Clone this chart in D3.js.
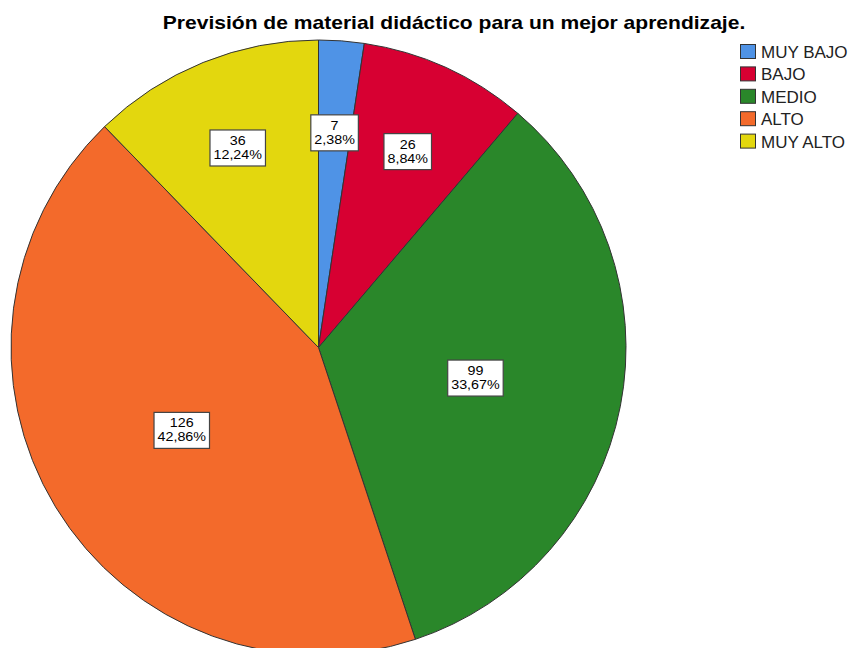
<!DOCTYPE html>
<html>
<head>
<meta charset="utf-8">
<script src="https://cdn.jsdelivr.net/npm/d3@7"></script>
<style>
  body { margin: 0; background: #fff; }
  svg { display: block; font-family: "Liberation Sans", Arial, sans-serif; }
</style>
</head>
<body>
<svg id="chart" width="852" height="648"></svg>
<script>
const titleText = "Previsión de material didáctico para un mejor aprendizaje.";
const categories = ["MUY BAJO", "BAJO", "MEDIO", "ALTO", "MUY ALTO"];
const counts = [7, 26, 99, 126, 36];
const percents = ["2,38%", "8,84%", "33,67%", "42,86%", "12,24%"];
const colors = ["#4f93e6", "#d70032", "#2a872a", "#f36a2b", "#e3d70e"];

const svg = d3.select("#chart");
const cx = 318.5, cy = 347.5, R = 307.5;
const total = d3.sum(counts);

const data = categories.map((c, i) => ({
  name: c,
  value: counts[i],
  pct: percents[i],
  color: colors[i]
}));

// title (SPSS output is a bit stretched sideways)
svg.append("text")
  .attr("transform", "translate(454,29) scale(1.17,1)")
  .attr("text-anchor", "middle")
  .style("font-size", "18px")
  .style("font-weight", "bold")
  .text(titleText);

const pie = d3.pie().sort(null).value(d => d.value);
const arc = d3.arc().innerRadius(0).outerRadius(R);
const arcs = pie(data);

const g = svg.append("g").attr("transform", `translate(${cx},${cy})`);

g.selectAll("path")
  .data(arcs)
  .enter()
  .append("path")
  .attr("d", arc)
  .attr("fill", d => d.data.color)
  .attr("stroke", "#333")
  .attr("stroke-width", 1);

// value labels
const labels = g.selectAll("g.lbl")
  .data(arcs)
  .enter()
  .append("g")
  .attr("class", "lbl")
  .attr("transform", d => {
    const f = d.data.value / total < 0.15 ? 0.70 : 0.52;
    const c = d3.arc().innerRadius(R * f).outerRadius(R * f).centroid(d);
    return `translate(${c[0]},${c[1]})`;
  });

labels.each(function (d) {
  const lg = d3.select(this);
  const rect = lg.append("rect");
  const tg = lg.append("g").attr("transform", "scale(1.1,1)");
  const t1 = tg.append("text")
    .attr("text-anchor", "middle")
    .attr("y", -3)
    .style("font-size", "13px")
    .text(d.data.value);
  const t2 = tg.append("text")
    .attr("text-anchor", "middle")
    .attr("y", 11)
    .style("font-size", "13px")
    .text(d.data.pct);
  const w = Math.max(t1.node().getComputedTextLength(), t2.node().getComputedTextLength()) * 1.1 + 7;
  rect.attr("x", -w / 2)
    .attr("y", -18)
    .attr("width", w)
    .attr("height", 36)
    .attr("fill", "#fff")
    .attr("stroke", "#444")
    .attr("stroke-width", 1.2);
});

// legend
const legend = svg.append("g").attr("transform", "translate(740,44)");
const items = legend.selectAll("g")
  .data(data)
  .enter()
  .append("g")
  .attr("transform", (d, i) => `translate(0,${i * 22.4})`);

items.append("rect")
  .attr("x", 0.5)
  .attr("y", 0.5)
  .attr("width", 15)
  .attr("height", 14)
  .attr("fill", d => d.color)
  .attr("stroke", "#333");

items.append("text")
  .attr("x", 21)
  .attr("y", 14)
  .style("font-size", "17px")
  .style("fill", "#222")
  .text(d => d.name);
</script>
</body>
</html>
